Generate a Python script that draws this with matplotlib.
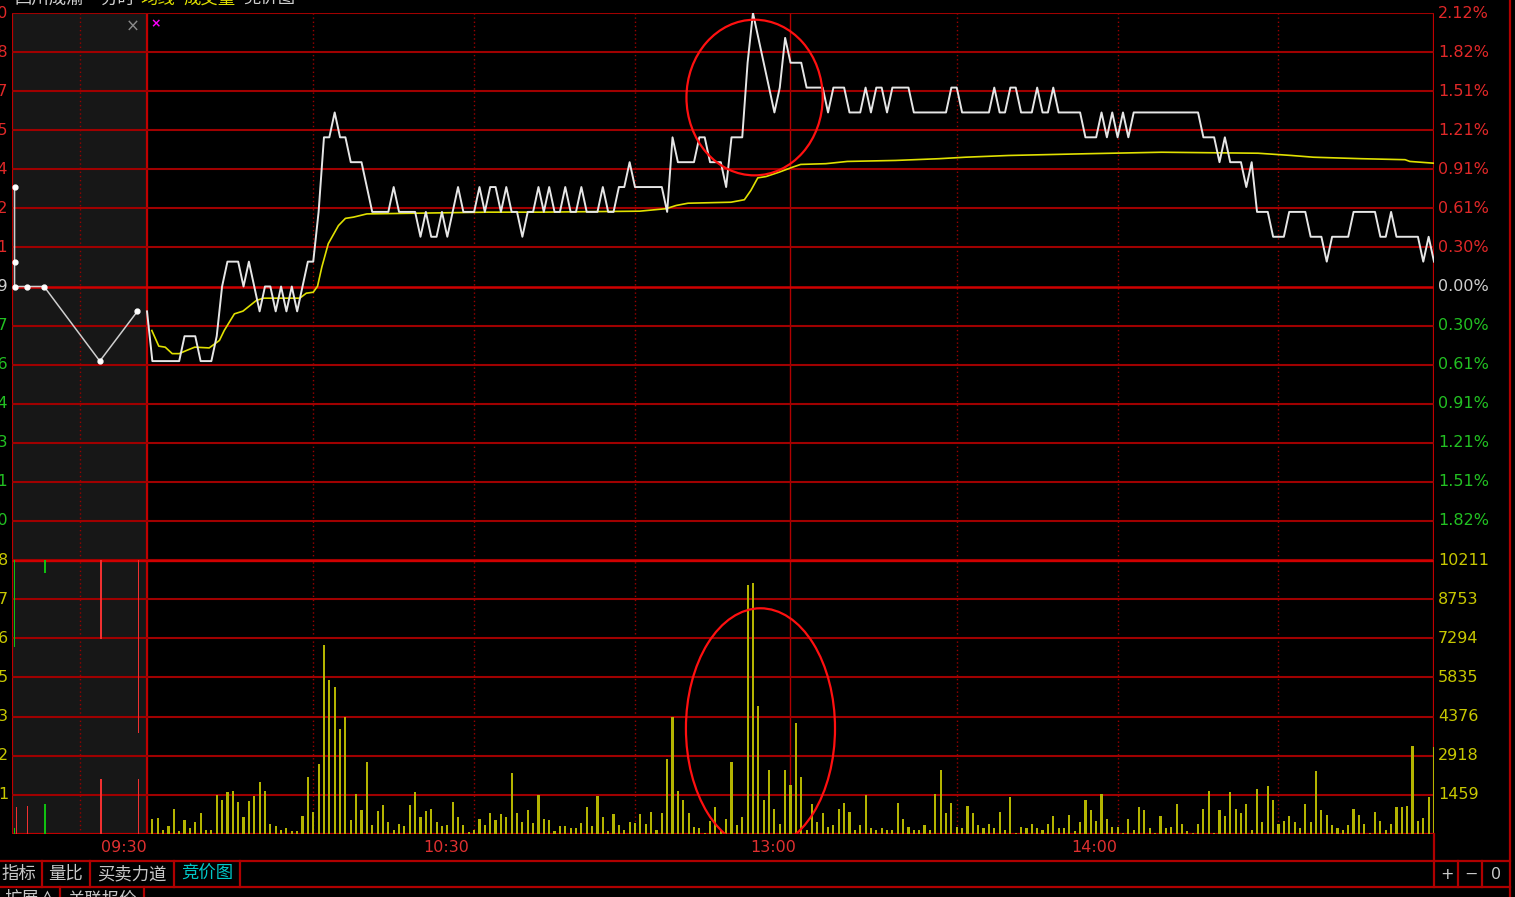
import numpy as np
import matplotlib.pyplot as plt
from matplotlib.patches import Ellipse

plt.rcParams['font.family'] = ['DejaVu Sans', 'Noto Sans CJK SC']
CJK = ['Noto Sans CJK SC', 'DejaVu Sans']

# ---------------- data ----------------
prev_close = 5.19
price_span = 0.11          # +-2.12%

# last price per minute (fen), 09:30 .. 15:00
price_fen = [
    518, 516, 516, 516, 516, 516, 516, 517, 517, 517,
    516, 516, 516, 517, 519, 520, 520, 520, 519, 520,
    519, 518, 519, 519, 518, 519, 518, 519, 518, 519,
    520, 520, 522, 525, 525, 526, 525, 525, 524, 524,
    524, 523, 522, 522, 522, 522, 523, 522, 522, 522,
    522, 521, 522, 521, 521, 522, 521, 522, 523, 522,
    522, 522, 523, 522, 523, 523, 522, 523, 522, 522,
    521, 522, 522, 523, 522, 523, 522, 522, 523, 522,
    522, 523, 522, 522, 522, 523, 522, 522, 523, 523,
    524, 523, 523, 523, 523, 523, 523, 522, 525, 524,
    524, 524, 524, 525, 525, 524, 524, 524, 523, 525,
    525, 525, 528, 530, 529, 528, 527, 526, 527, 529,
    528, 528, 528, 527, 527, 527, 527, 526, 527, 527,
    527, 526, 526, 526, 527, 526, 527, 527, 526, 527,
    527, 527, 527, 526, 526, 526, 526, 526, 526, 526,
    527, 527, 526, 526, 526, 526, 526, 526, 527, 526,
    526, 527, 527, 526, 526, 526, 527, 526, 526, 527,
    526, 526, 526, 526, 526, 525, 525, 525, 526, 525,
    526, 525, 526, 525, 526, 526, 526, 526, 526, 526,
    526, 526, 526, 526, 526, 526, 526, 525, 525, 525,
    524, 525, 524, 524, 524, 523, 524, 522, 522, 522,
    521, 521, 521, 522, 522, 522, 522, 521, 521, 521,
    520, 521, 521, 521, 521, 522, 522, 522, 522, 522,
    521, 521, 522, 521, 521, 521, 521, 521, 520, 521,
    520,
]

# average price line (minute, price) read points
avg_min = [0.9, 2.2, 3.4, 4.7, 6, 7.4, 8.9, 11.6, 13.5, 14.4, 16.3, 17.9, 20.4,
           21.7, 28.5, 29.7, 31, 31.8, 32.6, 33.8, 35.7, 37, 38.5, 41, 63.5,
           73.4, 91.9, 96.8, 98.7, 100.9, 108.9, 111.4, 112.6, 113.9, 115.4,
           117.9, 120.4, 121.9, 126.6, 130.6, 139.6, 147.7, 152.6, 160.7,
           175.2, 189.2, 207.2, 213.4, 217.5, 226.5, 234.6, 235.5, 239.9]
avg_price = [5.1723, 5.1660, 5.1656, 5.1630, 5.1630, 5.1643, 5.1656, 5.1653,
             5.1683, 5.1723, 5.1790, 5.1801, 5.1844, 5.1853, 5.1853, 5.1873,
             5.1877, 5.1901, 5.1978, 5.2072, 5.2145, 5.2174, 5.2179, 5.2192,
             5.2199, 5.2199, 5.2203, 5.2213, 5.2226, 5.2235, 5.2239, 5.2249,
             5.2286, 5.2337, 5.2342, 5.2360, 5.2380, 5.2391, 5.2394, 5.2403,
             5.2407, 5.2414, 5.2420, 5.2427, 5.2434, 5.2440, 5.2436, 5.2427,
             5.2420, 5.2414, 5.2410, 5.2403, 5.2396]

# volume per minute (lots)
volume = [
    0, 559, 608, 161, 286, 944, 124, 509, 224, 447,
    783, 161, 161, 1466, 1280, 1565, 1615, 1180, 621, 1230,
    1404, 1950, 1615, 385, 286, 161, 224, 112, 112, 658,
    2124, 820, 2622, 7044, 5752, 5479, 3913, 4361, 509, 1503,
    895, 2671, 335, 845, 1068, 447, 161, 385, 286, 1068,
    1565, 621, 845, 944, 447, 286, 335, 1180, 621, 335,
    62, 161, 559, 335, 783, 509, 733, 621, 2286, 783,
    447, 895, 398, 1466, 559, 509, 124, 286, 286, 224,
    224, 398, 1006, 286, 1404, 621, 124, 733, 335, 161,
    447, 398, 730, 385, 832, 161, 783, 2795, 4361, 1615,
    1280, 783, 273, 224, 50, 497, 1006, 150, 559, 2683,
    335, 621, 9293, 9355, 4758, 1280, 2398, 944, 385, 2398,
    1839, 4137, 2124, 161, 1118, 435, 783, 273, 335, 944,
    1168, 832, 161, 335, 1454, 224, 161, 224, 161, 161,
    1168, 559, 273, 161, 161, 335, 161, 1503, 2398, 783,
    1168, 273, 224, 1056, 783, 335, 224, 385, 224, 832,
    161, 1392, 50, 273, 224, 385, 224, 161, 385, 658,
    211, 211, 720, 99, 435, 1280, 895, 497, 1503, 559,
    273, 273, 50, 559, 161, 1006, 895, 211, 50, 671,
    211, 273, 1118, 385, 99, 50, 385, 944, 1615, 50,
    895, 671, 1565, 944, 783, 1118, 161, 1677, 435, 1789,
    1280, 385, 497, 671, 435, 211, 1118, 435, 2348, 895,
    720, 323, 211, 161, 323, 944, 720, 385, 50, 832,
    497, 161, 385, 1006, 1006, 1056, 3292, 497, 608, 1392,
    3243,
]
vol_ticks = [1459, 2918, 4376, 5835, 7294, 8753, 10211]
vol_left = ['1', '2', '3', '5', '6', '7', '8']

# call auction (09:15-09:25), drawn in the grey strip
auc_x = [-24.7, -24.7, -24.7, -22.4, -19.2, -8.8, -1.8]
auc_price = [5.23, 5.20, 5.19, 5.19, 5.19, 5.16, 5.18]
auc_bar_x = [-24.7, -24.3, -22.3, -19.0, -8.6, -1.6]
auc_bar_vol = [230, 1018, 1055, 1107, 2050, 2050]
auc_bar_col = ['g', 'r', 'r', 'g', 'r', 'r']
auc_hang_x = [-24.7, -19.0, -8.6, -1.6]
auc_hang_vol = [3231, 496, 2944, 6459]
auc_hang_col = ['g', 'g', 'r', 'r']

time_labels = ['09:30', '10:30', '13:00', '14:00']
time_pos = [0, 60, 121, 181]
tabs = ['指标', '量比', '买卖力道', '竞价图']

# ---------------- layout ----------------
W, H = 1515, 897
fig = plt.figure(figsize=(W / 100, H / 100), dpi=100, facecolor='black')


def rect(l, t, r, b):
    return [l / W, 1 - b / H, (r - l) / W, (b - t) / H]


px_min = 1287 / 240
XMIN, XMAX = -135 / px_min, 240
VMAX = vol_ticks[-1]

ax = fig.add_axes(rect(12, 13, 1434, 560))
axv = fig.add_axes(rect(12, 560, 1434, 834))
for a in (ax, axv):
    a.set_facecolor('black')
    a.set_xlim(XMIN, XMAX)
    a.set_xticks([])
    a.set_yticks([])
    for s in a.spines.values():
        s.set_visible(False)
    a.axvspan(XMIN, 0, color='#171717', zorder=0)
    for xv in [30.9, 61, 91, 151, 181, 211, -12.5]:
        a.axvline(xv, color='#9a0000', lw=1.0, ls=(0, (1, 2)), zorder=1)
    a.axvline(119.9, color='#b00000', lw=1.0, zorder=1)
    a.axvline(0, color='#c00000', lw=1.6, zorder=1)
    a.axvline(XMIN, color='#c00000', lw=1.6, zorder=1)
    a.axvline(XMAX, color='#c00000', lw=1.6, zorder=1)

ax.set_ylim(prev_close - price_span, prev_close + price_span)
axv.set_ylim(0, VMAX)

levels = np.linspace(prev_close - price_span, prev_close + price_span, 15)
for i, lv in enumerate(levels):
    if i == 7:
        ax.axhline(lv, color='#d00000', lw=1.8, zorder=1)
    else:
        ax.axhline(lv, color='#a00000', lw=1.5, zorder=1)
    if i == 0:
        continue
    pct = (lv - prev_close) / prev_close * 100
    col = '#e02828' if i > 7 else ('#22c022' if i < 7 else '#d0d0d0')
    ax.text(1.0029, lv, '%.2f%%' % abs(pct), transform=ax.get_yaxis_transform(),
            ha='left', va='center', color=col, fontsize=11.5)
    ax.text(-4 / 1422, lv, '%.2f' % lv, transform=ax.get_yaxis_transform(),
            ha='right', va='center', color=col, fontsize=11.5)

axv.axhline(0, color='#c00000', lw=1.6, zorder=1)
for v, s in zip(vol_ticks, vol_left):
    top = v == VMAX
    axv.axhline(v, color='#d00000' if top else '#a00000', lw=2.4 if top else 1.5, zorder=1)
    axv.text(1.0029, v, str(v), transform=axv.get_yaxis_transform(),
             ha='left', va='center', color='#c8c800', fontsize=11.5)
    axv.text(-4 / 1422, v, s, transform=axv.get_yaxis_transform(),
             ha='right', va='center', color='#c8c800', fontsize=11.5)

# ---------------- series ----------------
minutes = np.arange(len(price_fen))
ax.plot(minutes, np.array(price_fen) / 100, color='#e6e6e6', lw=1.4, zorder=4)
ax.plot(avg_min, avg_price, color='#e0e000', lw=1.2, zorder=3)
ax.plot(auc_x, auc_price, color='#cfcfcf', lw=1.1, marker='o', ms=3.5,
        mfc='white', mec='white', zorder=4)

axv.bar(np.arange(len(volume)), volume, width=0.4, color='#b4b400', zorder=3)
cmap = {'g': '#10c010', 'r': '#f03030'}
axv.bar(auc_bar_x, auc_bar_vol, width=0.28, color=[cmap[c] for c in auc_bar_col], zorder=3)
axv.bar(auc_hang_x, [-v for v in auc_hang_vol], bottom=VMAX, width=0.28,
        color=[cmap[c] for c in auc_hang_col], zorder=3)

# annotation circles
ax.add_patch(Ellipse((113.3, 5.266), 25.4, 0.0626, fill=False, ec='#ff1010', lw=1.6, zorder=5))
axv.add_patch(Ellipse((114.4, 3936), 27.8, 8952, fill=False, ec='#ff1010', lw=1.6, zorder=5))

# time labels
for t, p in zip(time_labels, time_pos):
    axv.text(p, -13 / 274, t, transform=axv.get_xaxis_transform(), ha='right', va='center',
             color='#e03030', fontsize=11.5)

# small markers in the top-left
fig.text(133 / W, 1 - 27 / H, '×', color='#8a8a8a', fontsize=12, ha='center', va='center')
fig.text(156 / W, 1 - 24 / H, '×', color='#ff00ff', fontsize=9, ha='center', va='center',
         fontweight='bold')

# title (cut off at the top edge)
for txt, x0, col in [('四川成渝', 14, '#d0d0d0'), ('分时', 100, '#d0d0d0'),
                     ('均线', 140, '#e0e000'), ('成交量', 183, '#e0e000'),
                     ('竞价图', 243, '#d0d0d0')]:
    fig.text(x0 / W, 1 + 1 / H, txt, color=col, fontsize=12.5, family=CJK,
             ha='left', va='center')

# frame lines around bottom area
def hline(y, x0, x1, col='#b00000', lw=1.6):
    fig.add_artist(plt.Line2D([x0 / W, x1 / W], [1 - y / H, 1 - y / H], color=col, lw=lw))


def vline(x, y0, y1, col='#b00000', lw=1.6):
    fig.add_artist(plt.Line2D([x / W, x / W], [1 - y0 / H, 1 - y1 / H], color=col, lw=lw))


hline(861, 0, 1510)
hline(887, 0, 1510)
vline(1510, 0, 897)
vline(1434, 834, 887)
for xs in [42, 90, 174, 240]:
    vline(xs, 861, 887)
for xs in [1458, 1482]:
    vline(xs, 861, 887)
for xs in [60, 144]:
    vline(xs, 887, 897)

for txt, xc, col in zip(tabs, [19, 66, 132, 207], ['#c8c8c8'] * 3 + ['#00c8c8']):
    fig.text(xc / W, 1 - 874 / H, txt, color=col, fontsize=12.5, family=CJK,
             ha='center', va='center')
for txt, xc in [('扩展∧', 30), ('关联报价', 102)]:
    fig.text(xc / W, 1 - 899 / H, txt, color='#c8c8c8', fontsize=12.5, family=CJK,
             ha='center', va='center')
for txt, xc in [('+', 1447), ('−', 1471), ('0', 1496)]:
    fig.text(xc / W, 1 - 874 / H, txt, color='#c8c8c8', fontsize=11.5,
             ha='center', va='center')

fig.savefig('out.png', dpi=100, facecolor='black')
